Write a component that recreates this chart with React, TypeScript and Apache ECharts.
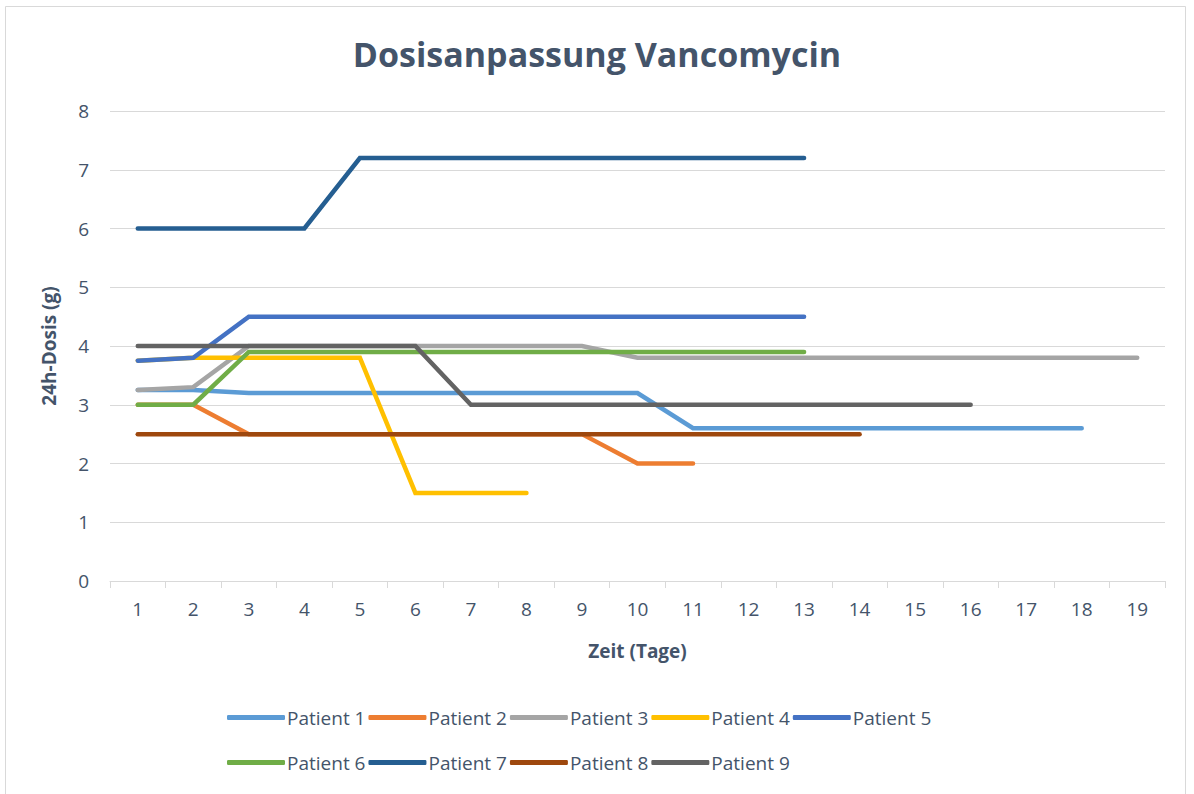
import React, { useEffect, useRef } from "react";
import * as echarts from "echarts";

const days = ["1","2","3","4","5","6","7","8","9","10","11","12","13","14","15","16","17","18","19"];

const patient1 = [3.25, 3.25, 3.2, 3.2, 3.2, 3.2, 3.2, 3.2, 3.2, 3.2, 2.6, 2.6, 2.6, 2.6, 2.6, 2.6, 2.6, 2.6];
const patient2 = [3, 3, 2.5, 2.5, 2.5, 2.5, 2.5, 2.5, 2.5, 2, 2];
const patient3 = [3.25, 3.3, 4, 4, 4, 4, 4, 4, 4, 3.8, 3.8, 3.8, 3.8, 3.8, 3.8, 3.8, 3.8, 3.8, 3.8];
const patient4 = [3.75, 3.8, 3.8, 3.8, 3.8, 1.5, 1.5, 1.5];
const patient5 = [3.75, 3.8, 4.5, 4.5, 4.5, 4.5, 4.5, 4.5, 4.5, 4.5, 4.5, 4.5, 4.5];
const patient6 = [3, 3, 3.9, 3.9, 3.9, 3.9, 3.9, 3.9, 3.9, 3.9, 3.9, 3.9, 3.9];
const patient7 = [6, 6, 6, 6, 7.2, 7.2, 7.2, 7.2, 7.2, 7.2, 7.2, 7.2, 7.2];
const patient8 = [2.5, 2.5, 2.5, 2.5, 2.5, 2.5, 2.5, 2.5, 2.5, 2.5, 2.5, 2.5, 2.5, 2.5];
const patient9 = [4, 4, 4, 4, 4, 4, 3, 3, 3, 3, 3, 3, 3, 3, 3, 3];

const seriesNames = ["Patient 1","Patient 2","Patient 3","Patient 4","Patient 5","Patient 6","Patient 7","Patient 8","Patient 9"];
const seriesData = [patient1, patient2, patient3, patient4, patient5, patient6, patient7, patient8, patient9];
const colors = ["#5B9BD5","#ED7D31","#A5A5A5","#FFC000","#4472C4","#70AD47","#255E91","#9E480E","#636363"];

const FONT = "'Open Sans', 'Noto Sans', sans-serif";
const TEXT = "#44546A";

export default function App() {
  const ref = useRef<HTMLDivElement>(null);
  useEffect(() => {
    if (!ref.current) return;
    const chart = echarts.init(ref.current, undefined, { renderer: "svg" });
    const legendCommon = {
      left: 227,
      padding: 0,
      orient: "horizontal" as const,
      itemWidth: 58,
      itemHeight: 5,
      itemGap: 3,
      icon: "roundRect",
      textStyle: { color: TEXT, fontSize: 19, fontFamily: FONT, padding: [0, 0, 0, -3] },
    };
    chart.setOption({
      animation: false,
      color: colors,
      textStyle: { fontFamily: FONT },
      title: {
        text: "Dosisanpassung Vancomycin",
        left: "center",
        top: 32,
        textStyle: { color: TEXT, fontSize: 34, fontWeight: "bold", fontFamily: FONT },
      },
      graphic: [
        {
          type: "rect",
          shape: { x: 5.5, y: 6.5, width: 1180, height: 800 },
          style: { fill: "none", stroke: "#D9D9D9", lineWidth: 1 },
          silent: true,
        },
      ],
      legend: [
        { ...legendCommon, top: 708, data: seriesNames.slice(0, 5) },
        { ...legendCommon, top: 753, data: seriesNames.slice(5) },
      ],
      grid: { left: 110, right: 29, top: 111, bottom: 213, containLabel: false },
      xAxis: {
        type: "category",
        data: days,
        boundaryGap: true,
        name: "Zeit (Tage)",
        nameLocation: "middle",
        nameGap: 60,
        nameTextStyle: { color: TEXT, fontSize: 19, fontWeight: "bold", fontFamily: FONT },
        axisLine: { lineStyle: { color: "#D9D9D9", width: 1 } },
        axisTick: { show: true, length: 7, lineStyle: { color: "#D9D9D9" } },
        axisLabel: { color: TEXT, fontSize: 19, margin: 18, fontFamily: FONT },
        splitLine: { show: false },
      },
      yAxis: {
        type: "value",
        min: 0,
        max: 8,
        interval: 1,
        name: "24h-Dosis (g)",
        nameLocation: "middle",
        nameGap: 52,
        nameTextStyle: { color: TEXT, fontSize: 19, fontWeight: "bold", fontFamily: FONT },
        axisLine: { show: false },
        axisTick: { show: false },
        axisLabel: { color: TEXT, fontSize: 19, margin: 21, fontFamily: FONT },
        splitLine: { lineStyle: { color: "#D9D9D9", width: 1 } },
      },
      series: seriesNames.map((name, i) => ({
        name,
        type: "line",
        data: seriesData[i],
        symbol: "none",
        showSymbol: false,
        lineStyle: { width: 4.5, color: colors[i], cap: "round", join: "miter" },
        itemStyle: { color: colors[i] },
      })),
    });
    return () => chart.dispose();
  }, []);
  return (
    <div
      ref={ref}
      style={{ position: "absolute", left: 0, top: 0, width: 1194, height: 794, background: "#fff" }}
    />
  );
}
